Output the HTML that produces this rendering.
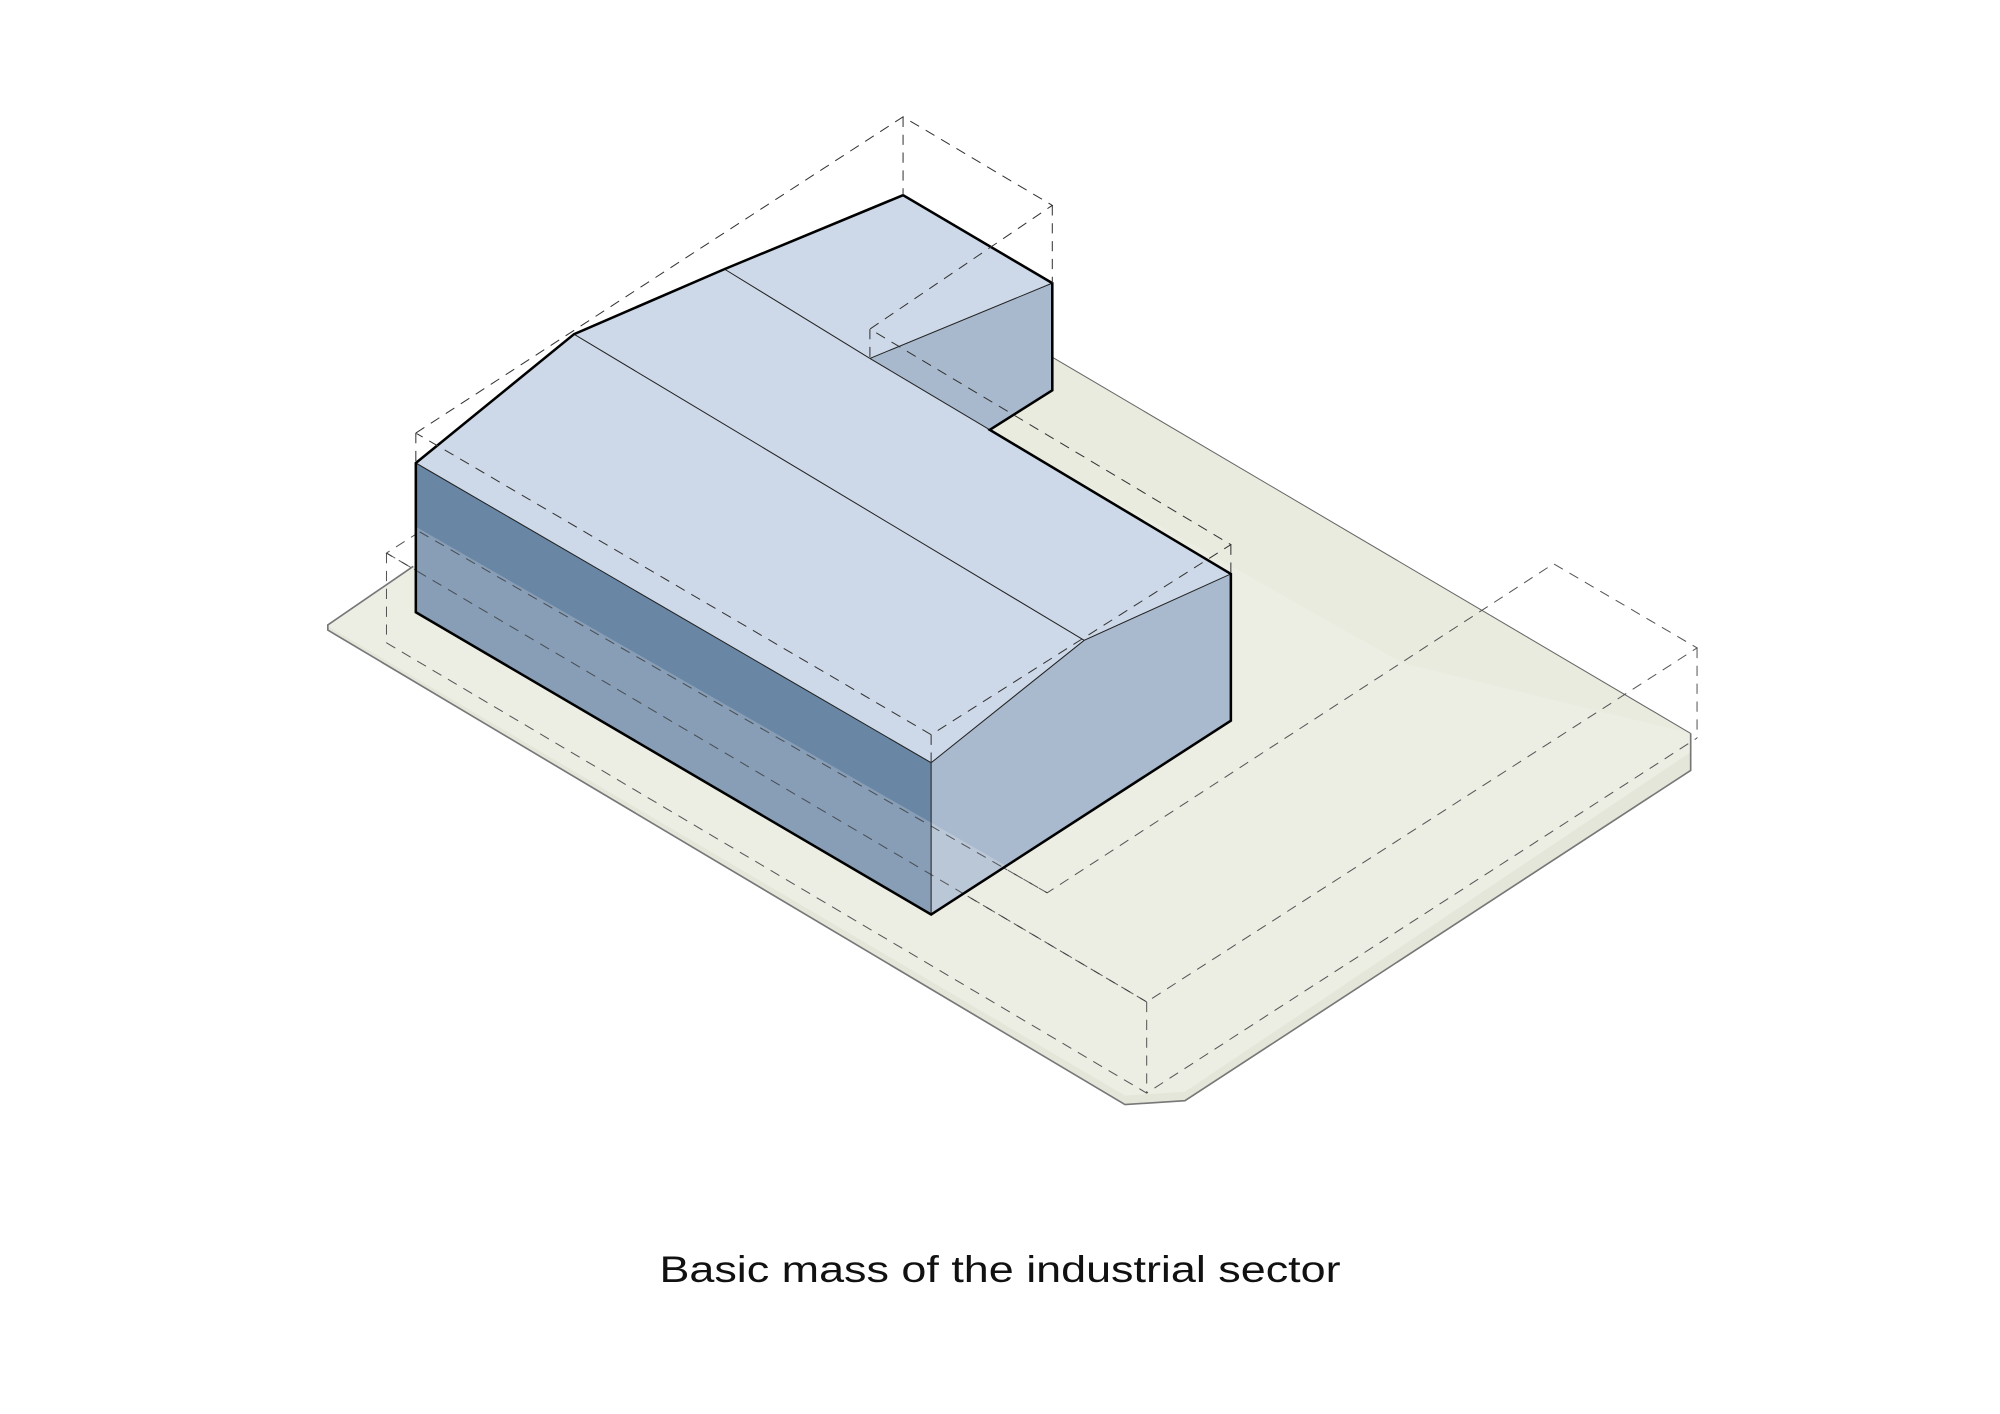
<!DOCTYPE html>
<html><head><meta charset="utf-8"><style>html,body{margin:0;padding:0;background:#fff}svg{display:block}</style></head>
<body>
<svg width="2000" height="1414" viewBox="0 0 1568 1108.6" xmlns="http://www.w3.org/2000/svg">
<rect width="1568" height="1108.6" fill="#fff"/>
<!-- ground slab -->
<polygon points="257,494 882,866 929,863 1325.5,604 1325.5,575 825,280 700,250 500,350 324,444 257,490" fill="#e3e6d8"/>
<polygon points="257,490 324,444 500,350 700,250 825,280 1325,575 1325,590 929,856 882,859 257,491" fill="#eceee4"/>
<polygon points="825,280 1325,575 1100,520 776,337 825,306" fill="#e8eadd" opacity="0.8"/>
<polyline points="324,444 257,490 257,494 882,866 929,863 1325.5,604 1325.5,575" fill="none" stroke="#777" stroke-width="1.3"/>
<line x1="825" y1="280" x2="1325.5" y2="575" stroke="#666" stroke-width="0.8"/>

<!-- ground-level dashed envelope -->
<g fill="none" stroke="#555" stroke-width="0.8" stroke-dasharray="8 6">
<polyline points="329,417 303,433.6 899,785.5 1330.5,508 1218,442 821,700 329,417"/>
<polyline points="303,504 899,857 1330.5,578.6"/>
<line x1="303" y1="433.6" x2="303" y2="504"/>
<line x1="899" y1="785.5" x2="899" y2="857"/>
<line x1="1330.5" y1="508" x2="1330.5" y2="578.6"/>
</g>

<!-- building faces -->
<polygon points="326,363 450,262 568,211 708,153 825,222 825,306 776,337 965,450 850,502 730,598" fill="#cdd9e8"/>
<polygon points="682,281 825,222 825,306 776,337" fill="#a8b9ce"/>
<polygon points="326,363 730,598 730,717 326,480" fill="#6986a4"/>
<polygon points="730,598 850,502 965,450 965,565 730,717" fill="#a9b9ce"/>
<polygon points="326,413 730,645 789,679 730,717 326,480" fill="#fff" opacity="0.2"/>

<!-- dashed lines seen through building (lower envelope) -->
<g fill="none" stroke="#333" stroke-width="0.8" stroke-dasharray="8 6" opacity="0.75">
<line x1="329" y1="417" x2="821" y2="700"/>
<line x1="303" y1="433.6" x2="899" y2="785.5"/>
</g>

<!-- thin lines -->
<g stroke="#222" stroke-width="0.8" fill="none">
<line x1="450" y1="262" x2="850" y2="502"/>
<line x1="568" y1="211" x2="682" y2="281"/>
<line x1="682" y1="281" x2="776" y2="337"/>
<line x1="682" y1="281" x2="825" y2="222"/>
<line x1="326" y1="363" x2="730" y2="598"/>
<polyline points="730,598 850,502 965,450"/>
<line x1="730" y1="598" x2="730" y2="717"/>
</g>

<!-- outline -->
<polygon points="326,363 450,262 568,211 708,153 825,222 825,306 776,337 965,450 965,565 730,717 326,480" fill="none" stroke="#000" stroke-width="2" stroke-linejoin="miter"/>

<!-- upper dashed envelope -->
<g fill="none" stroke="#333" stroke-width="0.8" stroke-dasharray="8 6">
<polyline points="326,339.5 708,91.6 825,161 682,258 965,427 730,576 326,339.5"/>
<line x1="326" y1="339.5" x2="326" y2="363"/>
<line x1="708" y1="91.6" x2="708" y2="153"/>
<line x1="825" y1="161" x2="825" y2="222"/>
<line x1="682" y1="258" x2="682" y2="281"/>
<line x1="965" y1="427" x2="965" y2="450"/>
<line x1="730" y1="576" x2="730" y2="598"/>
</g>

<text x="784" y="1005" text-anchor="middle" font-family="Liberation Sans, DejaVu Sans, sans-serif" font-size="29" fill="#111" textLength="534" lengthAdjust="spacingAndGlyphs">Basic mass of the industrial sector</text>
</svg>
</body></html>
